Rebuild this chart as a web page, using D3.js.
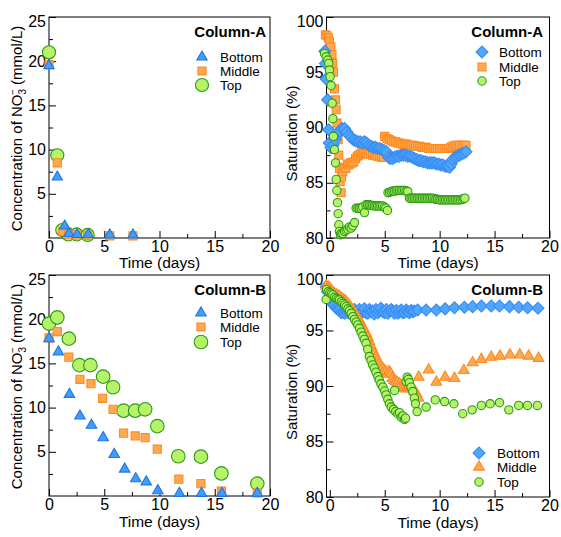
<!DOCTYPE html>
<html>
<head>
<meta charset="utf-8">
<script src="https://cdn.jsdelivr.net/npm/d3@7"></script>
<style>
  body { margin: 0; background: #fff; }
  svg { display: block; font-family: "Liberation Sans", Arial, sans-serif; }
</style>
</head>
<body>
<svg id="chart" width="561" height="537"></svg>
<script>
'use strict';

var xTicks     = [0, 5, 10, 15, 20];
var xMinor     = [2.5, 7.5, 12.5, 17.5];
var concTicks  = [5, 10, 15, 20, 25];
var concMinor  = [2.5, 7.5, 12.5, 17.5, 22.5];
var satTicks   = [80, 85, 90, 95, 100];
var satMinor   = [82.5, 87.5, 92.5, 97.5];
var seriesNames = ['Bottom', 'Middle', 'Top'];
var columnNames = ['Column-A', 'Column-B'];

// NO3- concentration, [time (days), mmol/L]
var concABottom = [[0,19.5],[0.75,6.9],[1.42,1.35],[1.8,0.5],[2.55,0.4],[3.55,0.4],[5.5,0.35],[7.6,0.35]];
var concAMiddle = [[0,19.6],[0.75,8.5],[1.25,0.75],[1.75,0.4],[2.5,0.35],[3.5,0.3],[5.5,0.25],[7.6,0.25]];
var concATop    = [[0,21.0],[0.75,9.35],[1.2,0.9],[1.75,0.4],[2.5,0.4],[3.5,0.35]];

var concBBottom = [[0,17.8],[0.85,16.3],[1.85,11.5],[2.8,9.05],[3.85,8.0],[4.9,6.6],[5.9,4.7],[6.85,3.05],
  [7.85,1.95],[8.8,1.6],[9.85,0.6],[11.8,0.3],[13.8,0.3],[15.65,0.3],[18.85,0.3]];
var concBMiddle = [[0,17.9],[0.75,18.6],[1.8,15.7],[2.8,13.2],[3.8,12.7],[4.85,11.05],[5.8,9.8],[6.75,7.1],
  [7.8,6.8],[8.7,6.6],[9.8,5.3],[11.75,1.9],[13.75,1.4],[15.6,0.55],[18.85,0.35]];
var concBTop    = [[0,19.5],[0.75,20.2],[1.8,17.8],[2.75,14.8],[3.75,14.8],[4.9,13.5],[5.8,12.3],[6.75,9.65],
  [7.8,9.65],[8.7,9.8],[9.8,7.9],[11.7,4.5],[13.75,4.45],[15.6,2.55],[18.85,1.4]];

// saturation, [time (days), %]
var satABottom = [[-0.45,96.9],[-0.4,95.8],[-0.33,94.4],[-0.2,92.5],[-0.1,89.8],[-0.05,88.6],[0.1,88.2],[0.3,88.4],
  [0.5,88.9],[0.7,89.4],[0.9,89.7],[1.1,89.9],[1.35,89.9],[1.55,89.6],[1.75,89.3],[1.95,89.1],[2.15,88.9],
  [2.35,88.8],[2.55,88.7],[2.75,88.7],[2.95,88.6],[3.15,88.7],[3.35,88.6],[3.55,88.4],[3.75,88.3],[3.95,88.2],
  [4.15,88.2],[4.35,88.1],[4.55,88.1],[4.75,88.0],[4.95,87.9],[5.15,87.8],[5.35,87.3],[5.5,87.2],[5.7,87.2],
  [5.9,87.3],[6.1,87.4],[6.3,87.4],[6.5,87.5],[6.7,87.5],[6.9,87.5],[7.1,87.4],[7.3,87.4],[7.5,87.3],[7.7,87.2],
  [7.9,87.1],[8.1,87.0],[8.3,87.0],[8.5,86.9],[8.7,86.9],[8.9,86.8],[9.1,86.8],[9.3,86.8],[9.5,86.8],[9.7,86.7],
  [9.9,86.7],[10.1,86.6],[10.3,86.6],[10.5,86.5],[10.7,86.5],[10.9,86.4],[11.05,86.7],[11.2,87.1],[11.4,87.3],
  [11.6,87.4],[11.8,87.5],[12.0,87.6],[12.2,87.7],[12.4,87.8]];
var satAMiddle = [[-0.4,98.4],[-0.25,98.3],[-0.12,98.1],[-0.03,97.8],[0.1,97.3],[0.2,96.6],[0.27,95.8],[0.34,95.0],
  [0.43,93.5],[0.52,92.5],[0.58,91.6],[0.66,90.4],[0.76,88.9],[0.82,87.5],[0.88,86.3],[0.94,85.1],[1.03,84.1],
  [1.08,85.5],[1.18,86.0],[1.3,86.4],[1.45,86.3],[1.6,86.7],[1.75,86.6],[1.9,86.8],[2.05,86.8],[2.2,86.9],
  [2.35,87.2],[2.5,87.4],[2.65,87.5],[2.8,87.6],[2.95,87.7],[3.1,87.7],[3.3,87.7],[3.5,87.6],[3.7,87.6],[3.9,87.5],
  [4.1,87.5],[4.3,87.4],[4.5,87.4],[4.7,87.3],[4.9,87.3],[5.0,89.2],[5.2,89.0],[5.4,88.9],[5.6,88.8],[5.8,88.7],
  [6.0,88.7],[6.2,88.6],[6.4,88.6],[6.6,88.5],[6.8,88.5],[7.0,88.5],[7.2,88.4],[7.4,88.4],[7.6,88.4],[7.8,88.3],
  [8.0,88.3],[8.2,88.3],[8.4,88.2],[8.6,88.2],[8.8,88.2],[9.0,88.1],[9.2,88.1],[9.4,88.1],[9.6,88.1],[9.8,88.1],
  [10.0,88.1],[10.2,88.1],[10.4,88.1],[10.6,88.1],[10.8,88.1],[11.0,88.2],[11.2,88.3],[11.4,88.4],[11.6,88.4],
  [11.8,88.4],[12.0,88.4],[12.2,88.4],[12.4,88.4]];
var satATop = [[-0.48,96.7],[-0.33,96.4],[-0.18,96.1],[-0.09,95.8],[-0.03,95.2],[0.03,94.6],[0.12,93.8],[0.22,92.2],
  [0.28,90.8],[0.34,89.2],[0.43,88.0],[0.52,86.8],[0.58,85.3],[0.64,84.3],[0.7,83.2],[0.76,82.2],[0.82,81.2],
  [0.88,80.6],[0.97,80.3],[1.05,80.4],[1.19,80.4],[1.34,80.6],[1.49,80.7],[1.64,80.8],[1.79,81.0],[1.94,80.9],
  [2.1,81.1],[2.25,81.4],[2.4,82.7],[2.55,82.7],[2.7,82.7],[2.85,82.7],[3.0,82.8],[3.16,82.3],[3.3,83.0],
  [3.45,83.0],[3.6,83.0],[3.75,82.95],[3.9,82.95],[4.05,82.9],[4.2,82.9],[4.35,82.9],[4.5,82.9],[4.65,82.9],
  [4.8,82.9],[4.95,82.8],[5.1,82.7],[5.25,82.5],[5.3,84.1],[5.45,84.15],[5.6,84.2],[5.75,84.25],[5.9,84.25],
  [6.05,84.3],[6.2,84.3],[6.35,84.3],[6.5,84.3],[6.65,84.3],[6.8,84.3],[6.95,84.25],[7.1,84.2],[7.25,83.6],
  [7.4,83.6],[7.55,83.6],[7.7,83.6],[7.85,83.6],[8.0,83.6],[8.15,83.6],[8.3,83.6],[8.45,83.6],[8.6,83.6],
  [8.75,83.6],[8.9,83.6],[9.05,83.6],[9.2,83.6],[9.35,83.6],[9.5,83.55],[9.65,83.5],[9.8,83.5],[9.95,83.45],
  [10.1,83.45],[10.25,83.45],[10.4,83.45],[10.55,83.45],[10.7,83.45],[10.85,83.45],[11.0,83.45],[11.15,83.45],
  [11.3,83.45],[11.45,83.45],[11.6,83.45],[11.75,83.45],[11.9,83.45],[12.05,83.5],[12.2,83.55],[12.3,83.6]];

var satBBottom = [[-0.33,98.95],[-0.2,98.5],[-0.05,97.9],[0.1,97.6],[0.25,97.4],[0.43,97.3],[0.6,97.0],[0.75,96.9],
  [0.88,96.85],[1.05,96.6],[1.2,96.7],[1.34,96.55],[1.5,96.8],[1.65,96.6],[1.8,96.7],[1.95,96.5],[2.1,96.6],
  [2.25,96.9],[2.4,96.6],[2.55,96.55],[2.7,96.9],[2.85,96.6],[3.0,96.7],[3.15,96.95],[3.3,96.6],[3.46,96.55],
  [3.6,96.9],[3.75,96.7],[3.9,96.75],[4.05,96.5],[4.2,96.9],[4.37,96.6],[4.5,96.8],[4.65,97.0],[4.83,96.7],
  [5.0,96.6],[5.15,96.9],[5.28,96.55],[5.45,96.75],[5.6,96.9],[5.74,96.7],[5.9,96.55],[6.05,96.8],[6.2,96.55],
  [6.35,96.7],[6.5,96.85],[6.65,96.6],[6.8,96.65],[6.95,96.85],[7.1,96.7],[7.25,96.6],[7.4,96.8],[7.56,96.7],
  [7.7,96.75],[8.0,96.85],[8.77,96.85],[9.7,96.85],[10.5,96.95],[11.35,97.05],[12.26,97.1],[13.0,97.15],
  [13.8,97.2],[14.7,97.2],[15.45,97.2],[16.36,97.15],[17.2,97.1],[18.0,97.05],[18.95,97.0]];
var satBMiddle = [[-0.33,99.0],[-0.15,98.9],[0.0,98.8],[0.15,98.6],[0.28,98.4],[0.45,98.3],[0.6,98.2],[0.75,98.1],
  [0.88,98.05],[1.05,97.9],[1.2,97.8],[1.35,97.7],[1.49,97.6],[1.65,97.4],[1.8,97.2],[1.95,97.0],[2.1,96.85],
  [2.25,96.6],[2.4,96.3],[2.55,96.1],[2.7,95.9],[2.85,95.6],[3.0,95.3],[3.15,95.0],[3.3,94.75],[3.45,94.4],
  [3.6,94.0],[3.75,93.6],[3.9,93.25],[4.05,92.9],[4.2,92.6],[4.35,92.3],[4.5,92.05],[4.65,91.8],[4.8,91.6],
  [4.95,91.4],[5.1,91.3],[5.25,91.1],[5.4,91.3],[5.55,91.1],[5.7,90.7],[5.85,90.5],[6.0,90.4],[6.15,90.3],
  [6.35,90.2],[6.5,90.0],[6.65,89.9],[6.8,89.8],[6.95,89.75],[7.1,89.9],[7.25,90.05],[7.4,89.9],[7.56,89.7],
  [7.7,89.5],[7.86,89.35],[7.95,89.1],[8.07,88.9],[8.1,90.8],[9.0,91.45],[9.7,90.35],[10.5,90.8],[11.35,90.7],
  [12.2,91.4],[13.0,92.1],[13.8,92.4],[14.7,92.6],[15.5,92.7],[16.4,92.8],[17.3,92.8],[18.1,92.7],[19.0,92.5]];
var satBTop = [[-0.33,97.8],[-0.3,98.7],[-0.15,98.5],[0.0,98.4],[0.15,98.3],[0.28,98.2],[0.45,98.0],[0.6,97.9],
  [0.75,97.8],[0.88,97.75],[1.05,97.6],[1.2,97.45],[1.35,97.3],[1.49,97.15],[1.65,96.95],[1.8,96.8],[1.95,96.55],
  [2.1,96.25],[2.25,96.0],[2.4,95.75],[2.55,95.5],[2.7,95.2],[2.85,94.85],[3.0,94.5],[3.15,94.2],[3.3,93.85],
  [3.45,93.3],[3.6,92.65],[3.75,92.3],[3.9,91.9],[4.05,91.6],[4.2,91.25],[4.37,90.85],[4.5,90.55],[4.65,90.2],
  [4.83,89.9],[5.0,89.55],[5.13,89.2],[5.28,88.8],[5.43,88.4],[5.6,88.1],[5.8,87.9],[5.9,89.6],[6.0,87.7],
  [6.2,87.5],[6.35,87.6],[6.5,87.2],[6.65,87.3],[6.8,87.0],[6.9,87.1],[6.95,90.4],[7.05,90.8],[7.15,90.6],
  [7.25,90.3],[7.4,89.9],[7.55,89.5],[7.7,88.9],[7.8,88.4],[7.95,87.7],[8.77,88.1],[9.6,88.75],[10.45,88.6],
  [11.3,88.4],[12.1,87.5],[12.96,87.85],[13.8,88.25],[14.6,88.4],[15.45,88.5],[16.3,87.85],[17.2,88.25],
  [18.0,88.25],[18.9,88.25]];

var blue   = {fill: '#3f9dfb', stroke: '#1f74e6'};
var blueD  = {fill: '#4ea6ff', stroke: '#3a8cf0'};
var orange = {fill: '#ffa852', stroke: '#ff8a1f'};
var green  = {fill: '#b6f26a', stroke: '#2b9a14'};

var svg = d3.select('#chart');

function marker(shape, size) {
  if (shape === 'diamond') return d3.symbol(d3.symbolSquare, size)();
  var type = {triangle: d3.symbolTriangle, square: d3.symbolSquare, circle: d3.symbolCircle}[shape];
  return d3.symbol(type, size)();
}

function placeMarker(sel, s) {
  sel.attr('d', marker(s.shape, s.size))
    .attr('fill', s.color.fill)
    .attr('stroke', s.color.stroke)
    .attr('stroke-width', 1.1);
}

function drawPanel(p) {
  var x = d3.scaleLinear().domain(p.xDomain).range([p.left, p.right]);
  var y = d3.scaleLinear().domain(p.yDomain).range([p.bottom, p.top]);
  var g = svg.append('g');

  // minor ticks first, then the labelled ones
  g.append('g').attr('transform', 'translate(0,' + p.bottom + ')')
    .call(d3.axisBottom(x).tickValues(xMinor).tickSize(-4).tickFormat(''));
  g.append('g').attr('transform', 'translate(' + p.left + ',0)')
    .call(d3.axisLeft(y).tickValues(p.yMinor).tickSize(-4).tickFormat(''));
  g.append('g').attr('class', 'xaxis').attr('transform', 'translate(0,' + p.bottom + ')')
    .call(d3.axisBottom(x).tickValues(xTicks).tickSize(-7).tickPadding(3).tickFormat(d3.format('d')));
  g.append('g').attr('class', 'yaxis').attr('transform', 'translate(' + p.left + ',0)')
    .call(d3.axisLeft(y).tickValues(p.yTicks).tickSize(-7).tickPadding(3).tickFormat(d3.format('d')));

  g.selectAll('.domain').remove();
  g.selectAll('.tick line').attr('stroke', '#000');
  g.selectAll('.tick text').attr('fill', '#000').attr('font-size', 16)
    .attr('font-family', '"Liberation Sans", Arial, sans-serif');
  // keep the top label inside, as the original does
  g.select('.yaxis').selectAll('.tick text')
    .attr('dy', function (d) { return y(d) - p.top < 4 ? '0.6em' : '0.32em'; });

  g.append('rect')
    .attr('x', p.left).attr('y', p.top)
    .attr('width', p.right - p.left).attr('height', p.bottom - p.top)
    .attr('fill', 'none').attr('stroke', '#000').attr('stroke-width', 1);

  p.series.forEach(function (s) {
    g.append('g').selectAll('path').data(s.data).enter().append('path')
      .attr('transform', function (d) {
        return 'translate(' + x(d[0]) + ',' + y(d[1]) + ')' + (s.shape === 'diamond' ? ' rotate(45)' : '');
      })
      .call(placeMarker, s);
  });

  // legend
  g.append('text').attr('x', p.legend.titleX).attr('y', p.legend.titleY)
    .attr('text-anchor', 'end').attr('font-weight', 'bold').attr('font-size', 15)
    .text(p.title);
  p.legend.rows.forEach(function (row, i) {
    var s = p.series.filter(function (d) { return d.name === seriesNames[i]; })[0];
    g.append('path')
      .attr('transform', 'translate(' + p.legend.mx + ',' + row + ')' + (s.shape === 'diamond' ? ' rotate(45)' : ''))
      .call(placeMarker, s);
    g.append('text').attr('x', p.legend.tx).attr('y', row + 5)
      .attr('font-size', 13.5).text(s.name);
  });

  // axis titles
  g.append('text').attr('x', (p.left + p.right) / 2).attr('y', p.bottom + p.xTitleGap)
    .attr('text-anchor', 'middle').attr('font-size', 15.5).text('Time (days)');

  var yt = g.append('text')
    .attr('transform', 'translate(' + p.yTitleX + ',' + ((p.top + p.bottom) / 2 + p.yTitleShift) + ') rotate(-90)')
    .attr('text-anchor', 'middle').attr('font-size', 15);
  if (p.kind === 'conc') {
    yt.append('tspan').text('Concentration of NO');
    yt.append('tspan').attr('font-size', 10).attr('dy', 4).text('3');
    yt.append('tspan').attr('font-size', 10).attr('dx', -6).attr('dy', -10).text('\u2212');
    yt.append('tspan').attr('dy', 6).text(' (mmol/L)');
  } else {
    yt.text('Saturation (%)');
  }
}

var panels = [
  {kind: 'conc', title: columnNames[0], left: 49, right: 270, top: 17, bottom: 238,
    xDomain: [0, 20], yDomain: [0, 25], yTicks: concTicks, yMinor: concMinor,
    xTitleGap: 30, yTitleX: 22, yTitleShift: 1,
    legend: {titleX: 266, titleY: 37, mx: 202, tx: 220, rows: [57, 71, 85]},
    series: [
      {name: 'Top', data: concATop, shape: 'circle', size: 135, color: green},
      {name: 'Middle', data: concAMiddle, shape: 'square', size: 66, color: orange},
      {name: 'Bottom', data: concABottom, shape: 'triangle', size: 46, color: blue}
    ]},
  {kind: 'sat', title: columnNames[0], left: 326.5, right: 549.5, top: 17, bottom: 238,
    xDomain: [-0.3, 20], yDomain: [80, 100], yTicks: satTicks, yMinor: satMinor,
    xTitleGap: 30, yTitleX: 297, yTitleShift: 6,
    legend: {titleX: 543, titleY: 37, mx: 482, tx: 499, rows: [52, 67, 81]},
    series: [
      {name: 'Middle', data: satAMiddle, shape: 'square', size: 64, color: orange},
      {name: 'Bottom', data: satABottom, shape: 'diamond', size: 72, color: blueD},
      {name: 'Top', data: satATop, shape: 'circle', size: 55, color: green}
    ]},
  {kind: 'conc', title: columnNames[1], left: 49, right: 270, top: 275, bottom: 496,
    xDomain: [0, 20], yDomain: [0, 25], yTicks: concTicks, yMinor: concMinor,
    xTitleGap: 31, yTitleX: 22, yTitleShift: 1,
    legend: {titleX: 266, titleY: 295, mx: 201, tx: 220, rows: [313, 327, 342]},
    series: [
      {name: 'Top', data: concBTop, shape: 'circle', size: 145, color: green},
      {name: 'Middle', data: concBMiddle, shape: 'square', size: 66, color: orange},
      {name: 'Bottom', data: concBBottom, shape: 'triangle', size: 48, color: blue}
    ]},
  {kind: 'sat', title: columnNames[1], left: 326.5, right: 549.5, top: 275, bottom: 497,
    xDomain: [-0.3, 20], yDomain: [80, 100], yTicks: satTicks, yMinor: satMinor,
    xTitleGap: 31, yTitleX: 297, yTitleShift: 6,
    legend: {titleX: 543, titleY: 295, mx: 479, tx: 497, rows: [453, 467, 482]},
    series: [
      {name: 'Bottom', data: satBBottom, shape: 'diamond', size: 72, color: blueD},
      {name: 'Middle', data: satBMiddle, shape: 'triangle', size: 50, color: orange},
      {name: 'Top', data: satBTop, shape: 'circle', size: 55, color: green}
    ]}
];

panels.forEach(drawPanel);
</script>
</body>
</html>
